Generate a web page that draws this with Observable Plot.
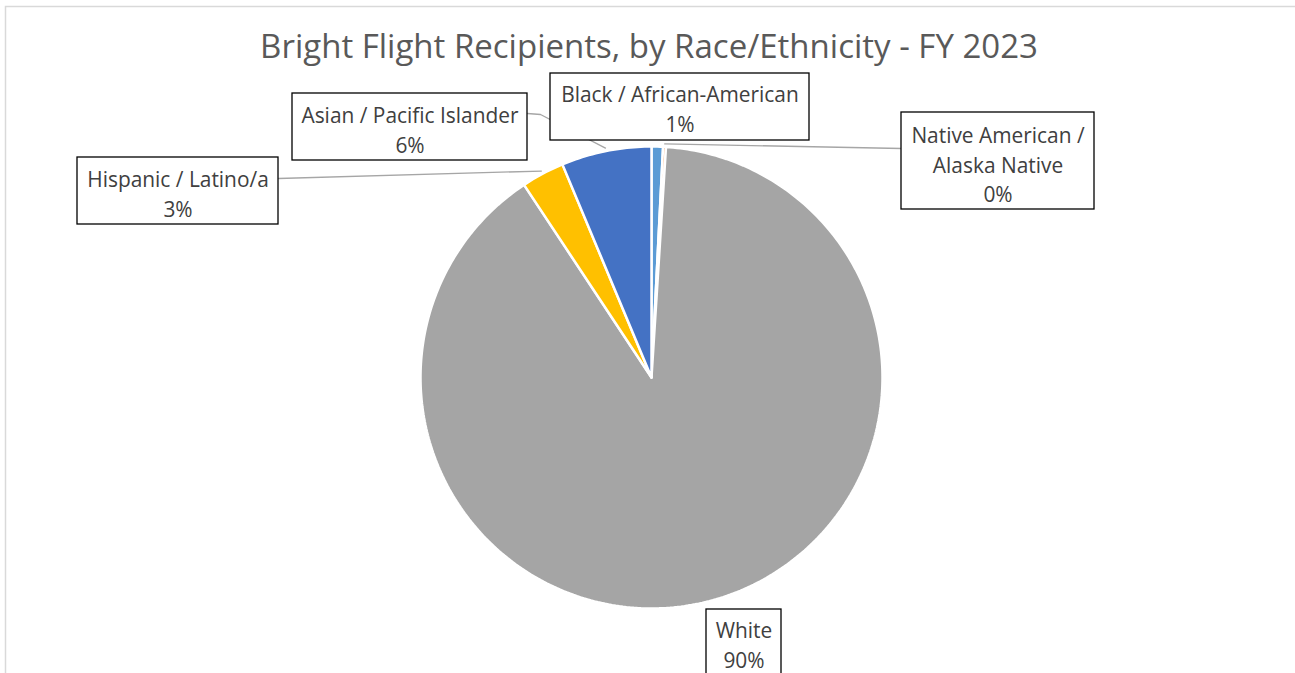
<!DOCTYPE html>
<html>
<head>
<meta charset="utf-8">
<script src="https://cdn.jsdelivr.net/npm/d3@7"></script>
<script src="https://cdn.jsdelivr.net/npm/@observablehq/plot@0.6"></script>
<style>
  html, body { margin: 0; padding: 0; background: #fff; }
  #chart svg { display: block; }
</style>
</head>
<body>
<div id="chart"></div>
<script>
// ---- data ----
const title = "Bright Flight Recipients, by Race/Ethnicity - FY 2023";
const categories = ["Black / African-American", "Native American / Alaska Native", "White", "Hispanic / Latino/a", "Asian / Pacific Islander"];
const labelNames = ["Black / African-American", "Native American /\nAlaska Native", "White", "Hispanic / Latino/a", "Asian / Pacific Islander"];
const shares = [0.8, 0.2, 89.7, 3.0, 6.3];
const colors = ["#5B9BD5", "#ED7D31", "#A5A5A5", "#FFC000", "#4472C4"];

// ---- layout ----
const W = 1295, H = 673;
const cx = 651, cy = 377, r = 231;
// label boxes [x1, x2, y1, y2] and text center [x, y]
const boxes = [
  [550, 809, 73, 140],
  [901, 1094, 112, 209],
  [706, 781, 609, 700],
  [77, 278, 157, 224],
  [292, 527, 93, 160]
];
const textPos = [[679.5, 107], [997.5, 162.5], [743.5, 643], [177.5, 192], [409.5, 128]];
// leader anchors at label box (null = no leader)
const leaderAnchors = [null, [[901, 148]], null, [[278, 178]], [[527, 113], [540, 114]]];

const arcs = d3.pie().sort(null).value(d => d)(shares);

const slicePts = [];
arcs.forEach((a, i) => {
  const n = Math.max(2, Math.ceil((a.endAngle - a.startAngle) / (Math.PI * 2) * 400));
  slicePts.push({name: categories[i], x: cx, y: cy});
  for (let k = 0; k <= n; k++) {
    const t = a.startAngle + (a.endAngle - a.startAngle) * k / n;
    slicePts.push({name: categories[i], x: cx + r * Math.sin(t), y: cy - r * Math.cos(t)});
  }
  slicePts.push({name: categories[i], x: cx, y: cy});
});

const leaderPts = [];
arcs.forEach((a, i) => {
  if (!leaderAnchors[i]) return;
  leaderAnchors[i].forEach(p => leaderPts.push({name: categories[i], x: p[0], y: p[1]}));
  const m = (a.startAngle + a.endAngle) / 2;
  leaderPts.push({name: categories[i], x: cx + (r + 3) * Math.sin(m), y: cy - (r + 3) * Math.cos(m)});
});

const labels = categories.map((c, i) => ({
  name: c,
  x1: boxes[i][0], x2: boxes[i][1], y1: boxes[i][2], y2: boxes[i][3],
  tx: textPos[i][0], ty: textPos[i][1],
  text: `${labelNames[i]}\n${Math.round(shares[i])}%`
}));

const chart = Plot.plot({
  width: W, height: H,
  margin: 0,
  x: {domain: [0, W], range: [0, W], axis: null},
  y: {domain: [0, H], range: [0, H], axis: null},
  color: {domain: categories, range: colors},
  style: {fontFamily: "'Open Sans', sans-serif", background: "#fff"},
  marks: [
    Plot.rect([{x1: 5.5, x2: W + 20, y1: 6.5, y2: H + 20}], {x1: "x1", x2: "x2", y1: "y1", y2: "y2", fill: "none", stroke: "#D9D9D9", strokeWidth: 1.5}),
    Plot.text([title], {x: () => W / 2 + 1, y: () => 47, text: d => d, fontSize: 33, fill: "#595959", lineAnchor: "middle"}),
    Plot.line(slicePts, {x: "x", y: "y", z: "name", fill: "name", stroke: "white", strokeWidth: 2.5, strokeLinejoin: "miter"}),
    Plot.line(leaderPts, {x: "x", y: "y", z: "name", stroke: "#A6A6A6", strokeWidth: 1.3}),
    Plot.rect(labels, {x1: "x1", x2: "x2", y1: "y1", y2: "y2", fill: "white", stroke: "#000", strokeWidth: 1.3}),
    Plot.text(labels, {x: "tx", y: "ty", text: "text", fontSize: 20.9, lineHeight: 1.43, fill: "#404040", lineAnchor: "middle"})
  ]
});
document.getElementById("chart").appendChild(chart);
</script>
</body>
</html>
